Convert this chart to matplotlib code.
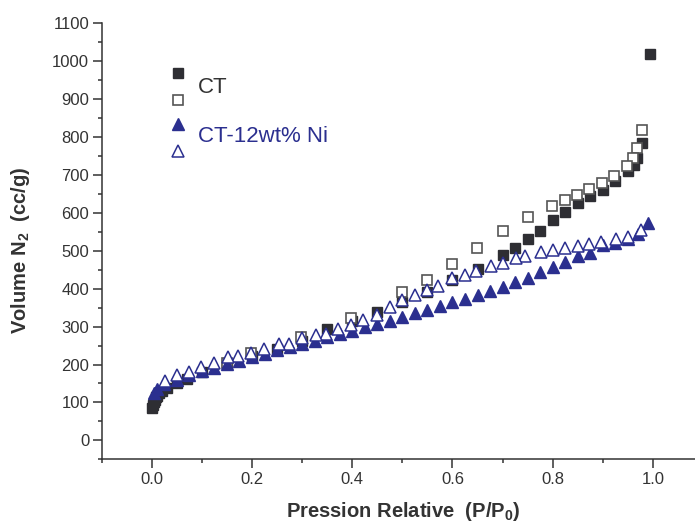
import matplotlib
matplotlib.use('Agg')
import matplotlib.pyplot as plt
from matplotlib.ticker import MultipleLocator

plt.rcParams['font.family'] = ['Liberation Sans', 'DejaVu Sans']
plt.rcParams['mathtext.default'] = 'regular'

# CT adsorption (filled squares)
ct_ads_x = [0.001, 0.002, 0.004, 0.006, 0.008, 0.010, 0.015, 0.020, 0.030, 0.050, 0.070,
            0.100, 0.150, 0.200, 0.250, 0.300, 0.350, 0.400, 0.450, 0.500, 0.550, 0.600,
            0.650, 0.700, 0.725, 0.750, 0.775, 0.800, 0.825, 0.850, 0.875, 0.900, 0.925,
            0.950, 0.962, 0.968, 0.979, 0.994]
ct_ads_y = [85, 93, 100, 107, 113, 118, 124, 129, 137, 150, 163,
            180, 202, 222, 242, 262, 293, 315, 338, 365, 391, 422,
            451, 490, 508, 530, 553, 580, 602, 625, 645, 661, 683,
            711, 726, 746, 784, 1018]

# CT desorption (open squares)
ct_des_x = [0.979, 0.969, 0.960, 0.948, 0.922, 0.899, 0.873, 0.848, 0.824, 0.798,
            0.750, 0.700, 0.649, 0.599, 0.550, 0.499, 0.398, 0.298, 0.198, 0.150]
ct_des_y = [818, 772, 746, 724, 697, 679, 662, 648, 634, 619,
            588, 551, 506, 464, 424, 391, 322, 272, 230, 205]

# CT-12wt% Ni adsorption (filled triangles)
ni_ads_x = [0.005, 0.010, 0.025, 0.050, 0.075, 0.100, 0.125, 0.150, 0.175, 0.200, 0.225,
            0.250, 0.275, 0.300, 0.325, 0.350, 0.375, 0.400, 0.425, 0.450, 0.475,
            0.500, 0.525, 0.550, 0.575, 0.600, 0.625, 0.650, 0.675, 0.700, 0.725,
            0.750, 0.775, 0.800, 0.825, 0.850, 0.875, 0.900, 0.925, 0.950, 0.970, 0.990]
ni_ads_y = [125, 135, 148, 160, 172, 182, 192, 201, 210, 219, 228,
            237, 246, 255, 263, 272, 280, 289, 298, 306, 316,
            326, 336, 345, 354, 364, 374, 383, 394, 404, 418,
            429, 444, 456, 470, 486, 495, 514, 521, 532, 543, 572]

# CT-12wt% Ni desorption (open triangles)
ni_des_x = [0.977, 0.950, 0.927, 0.896, 0.873, 0.850, 0.825, 0.801, 0.777, 0.744,
            0.726, 0.701, 0.677, 0.646, 0.625, 0.600, 0.571, 0.550, 0.526, 0.499,
            0.475, 0.449, 0.421, 0.397, 0.371, 0.348, 0.328, 0.300, 0.273, 0.253,
            0.223, 0.198, 0.172, 0.152, 0.125, 0.098, 0.074, 0.051, 0.027]
ni_des_y = [554, 536, 532, 522, 517, 512, 507, 501, 496, 485,
            481, 469, 459, 447, 435, 427, 406, 396, 384, 369,
            352, 330, 317, 303, 293, 281, 279, 271, 255, 253,
            242, 230, 222, 220, 204, 193, 180, 171, 156]

black = '#2e2e33'
gray = '#555555'
navy = '#2b2f8f'
txt = '#333333'

fig = plt.figure(figsize=(6.95, 5.27), dpi=100)
ax = fig.add_axes([0.1463, 0.1285, 0.8537, 0.8273])

ax.plot(ct_ads_x, ct_ads_y, 's', ms=7.2, color=black, mec=black)
ax.plot(ct_des_x, ct_des_y, 's', ms=7.2, mfc='white', mec=gray, mew=1.2)
ax.plot(ni_ads_x, ni_ads_y, '^', ms=8.5, color=navy, mec=navy)
ax.plot(ni_des_x, ni_des_y, '^', ms=8.5, mfc='white', mec=navy, mew=1.1)

# legend drawn by hand like the original
ax.plot([0.1286], [0.886], 's', ms=7, color=black, transform=ax.transAxes)
ax.plot([0.1286], [0.824], 's', ms=7, mfc='white', mec=gray, mew=1.2, transform=ax.transAxes)
ax.plot([0.1286], [0.769], '^', ms=8.5, color=navy, transform=ax.transAxes)
ax.plot([0.1286], [0.707], '^', ms=8.5, mfc='white', mec=navy, mew=1.1, transform=ax.transAxes)
ax.text(0.162, 0.852, 'CT', fontsize=16, color=txt, va='center', transform=ax.transAxes)
ax.text(0.162, 0.741, 'CT-12wt% Ni', fontsize=16, color=navy, va='center', transform=ax.transAxes)

ax.set_xlim(-0.1, 1.084)
ax.set_ylim(-50, 1100)
ax.xaxis.set_major_locator(MultipleLocator(0.2))
ax.xaxis.set_minor_locator(MultipleLocator(0.1))
ax.yaxis.set_major_locator(MultipleLocator(100))
ax.yaxis.set_minor_locator(MultipleLocator(50))
ax.set_xticks([0.0, 0.2, 0.4, 0.6, 0.8, 1.0])
ax.set_xticklabels(['0.0', '0.2', '0.4', '0.6', '0.8', '1.0'])

for side in ['top', 'right']:
    ax.spines[side].set_visible(False)
for side in ['left', 'bottom']:
    ax.spines[side].set_linewidth(1.1)
    ax.spines[side].set_color(txt)

ax.tick_params(which='major', direction='out', length=6.5, width=1.1, color=txt,
               labelsize=12, labelcolor=txt, pad=2.5)
ax.tick_params(which='minor', direction='out', length=3.2, width=1.1, color=txt)

ax.set_xlabel('Pression Relative  (P/P$_0$)', fontsize=14.5, fontweight='bold', color=txt)
ax.set_ylabel('Volume N$_2$  (cc/g)', fontsize=14.5, fontweight='bold', color=txt)
ax.xaxis.set_label_coords(0.508, -0.094)
ax.yaxis.set_label_coords(-0.118, 0.48)

fig.savefig('out.png', dpi=100)
